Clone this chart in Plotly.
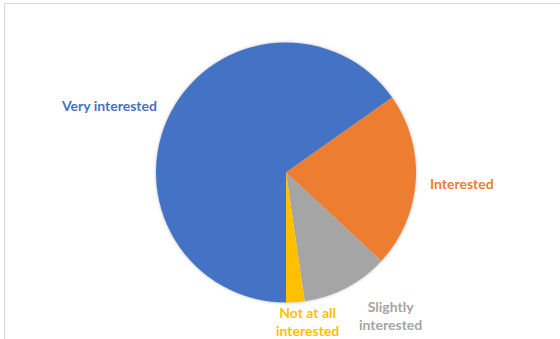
import plotly.graph_objects as go

# Survey responses (share of respondents, %)
categories = ["Very interested", "Interested", "Slightly interested", "Not at all interested"]
shares = [65.2, 21.7, 10.8, 2.3]
label_text = ["Very interested", "Interested", "Slightly<br>interested", "Not at all<br>interested"]

colors = ["#4472C4", "#ED7D31", "#A5A5A5", "#FFC000"]

W, H = 560, 339
cx, cy, R = 286, 172.5, 130  # pie centre and radius in pixels

# label anchor points in pixels
label_pos = [(108.5, 105), (461.5, 183.5), (390, 315.5), (307, 321)]


def px(x):
    return x / W


def py(y):
    return 1 - y / H


fig = go.Figure()
fig.add_trace(go.Pie(
    labels=categories,
    values=shares,
    sort=False,
    direction="clockwise",
    rotation=180,
    marker=dict(colors=colors, line=dict(width=0)),
    textinfo="none",
    hoverinfo="label+percent",
    showlegend=False,
    domain=dict(x=[px(cx - R), px(cx + R)], y=[py(cy + R), py(cy - R)]),
))

shapes = []
# soft shadow around the pie
for i, a in enumerate([0.05, 0.035, 0.02]):
    r = R + 1 + i
    shapes.append(dict(
        type="circle", xref="paper", yref="paper", layer="below",
        x0=px(cx - r), x1=px(cx + r), y0=py(cy + r), y1=py(cy - r),
        fillcolor=f"rgba(0,0,0,{a})", line=dict(width=0),
    ))
# chart frame
shapes.append(dict(
    type="rect", xref="paper", yref="paper", layer="below",
    x0=px(4.5), x1=px(W + 10), y0=py(H + 10), y1=py(3.5),
    line=dict(color="#D9D9D9", width=1), fillcolor="rgba(0,0,0,0)",
))

annotations = []
for txt, col, (lx, ly) in zip(label_text, colors, label_pos):
    annotations.append(dict(
        text=f"<b>{txt}</b>", x=px(lx), y=py(ly), xref="paper", yref="paper",
        xanchor="center", yanchor="middle", showarrow=False,
        font=dict(family="Lato", size=14, color=col),
    ))

fig.update_layout(
    width=W, height=H,
    margin=dict(l=0, r=0, t=0, b=0),
    paper_bgcolor="white",
    plot_bgcolor="white",
    shapes=shapes,
    annotations=annotations,
)

fig.write_html("out.html")
